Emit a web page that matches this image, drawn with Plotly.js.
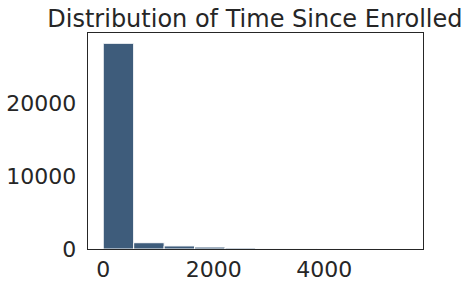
<!DOCTYPE html>
<html>
<head>
<meta charset="utf-8">
<script src="https://cdn.plot.ly/plotly-3.0.1.min.js"></script>
<style>html,body{margin:0;padding:0;background:#fff;}#chart{width:469px;height:286px;}</style>
</head>
<body>
<div id="chart"></div>
<script>
// Histogram bins (time since enrolled, days) and counts
const binEdges = [0, 551, 1102, 1653, 2204, 2755, 3306, 3857, 4408, 4959, 5510];
const counts = [28200, 860, 420, 270, 140, 40, 20, 10, 6, 4];
const xTickVals = [0, 2000, 4000];
const xTickText = ['0', '2000', '4000'];
const yTickVals = [0, 10000, 20000];
const yTickText = ['0', '10000', '20000'];

const centers = counts.map((_, i) => (binEdges[i] + binEdges[i + 1]) / 2);
const widths = counts.map((_, i) => binEdges[i + 1] - binEdges[i]);

const trace = {
  type: 'bar',
  x: centers,
  y: counts,
  width: widths,
  marker: { color: '#3e5c7b', line: { color: '#ffffff', width: 1 } },
  hoverinfo: 'skip'
};

const font = { family: 'DejaVu Sans, sans-serif', size: 22, color: '#262626' };
const layout = {
  width: 469, height: 286,
  margin: { l: 88, r: 46, t: 33, b: 37, pad: 0 },
  paper_bgcolor: '#ffffff', plot_bgcolor: '#ffffff',
  showlegend: false,
  bargap: 0,
  title: { text: 'Distribution of Time Since Enrolled', font: { family: 'DejaVu Sans, sans-serif', size: 24, color: '#262626' }, x: 0.5435, xanchor: 'center', xref: 'container', yref: 'container', y: 0.905, yanchor: 'bottom' },
  xaxis: {
    range: [-275.5, 5785.5],
    tickvals: xTickVals, ticktext: xTickText,
    showgrid: false, zeroline: false,
    showline: true, mirror: true, linecolor: '#262626', linewidth: 1.25,
    ticks: '', tickfont: font
  },
  yaxis: {
    range: [0, 29610],
    tickvals: yTickVals, ticktext: yTickText,
    showgrid: false, zeroline: false,
    showline: true, mirror: true, linecolor: '#262626', linewidth: 1.25,
    ticks: '', tickfont: font, ticklabelstandoff: 6
  }
};

Plotly.newPlot('chart', [trace], layout, { staticPlot: true, displayModeBar: false });
</script>
</body>
</html>
